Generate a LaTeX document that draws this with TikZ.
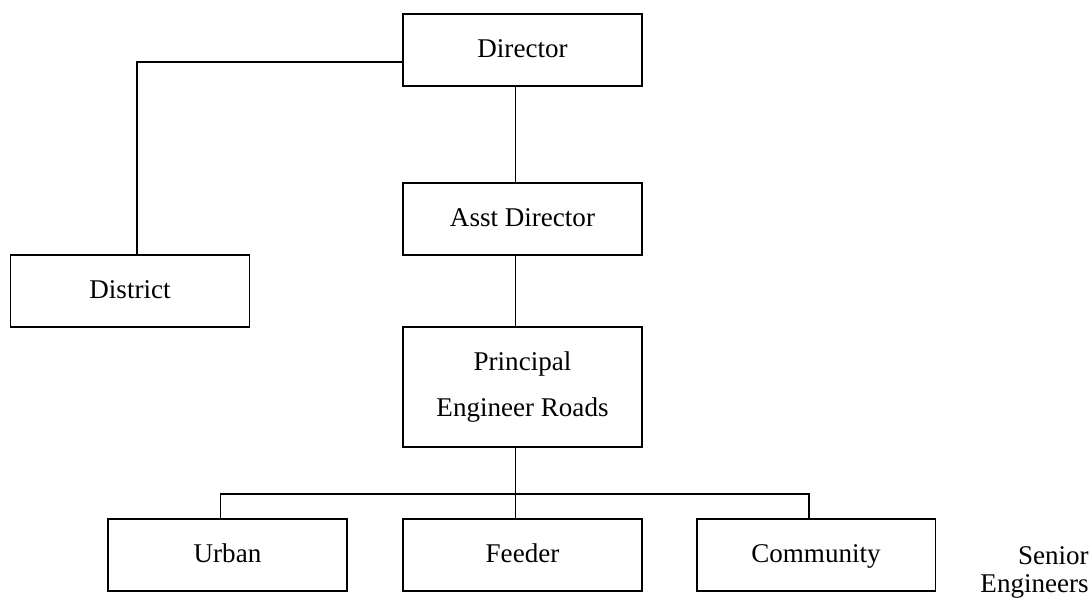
\documentclass[tikz,border=0pt]{standalone}
\usepackage{fontspec}
\setmainfont{Liberation Serif}
\usepackage{tikz}

\tikzset{
  unitbox/.style={draw,line width=1.1pt,minimum width=4.78cm,minimum height=1.44cm,
    inner sep=0pt,font=\fontsize{15.4}{26.7}\selectfont,align=center},
  oneline/.style={unitbox,text height=10.5pt,text depth=1.4pt},
  link/.style={line width=1.1pt}
}

\begin{document}
\begin{tikzpicture}[x=0.02cm,y=-0.02cm]
                    \useasboundingbox (0,0) rectangle (1091,601);

                    \node[oneline] (director) at (522.5,50) {Director};
                    \node[oneline] (asst) at (522.5,219) {Asst Director};
                    \node[oneline] (district) at (130,291) {District};
                    \node[unitbox,minimum height=2.4cm] (principal) at (522.5,387) {Principal\\Engineer Roads};

                    \node[oneline] (urban) at (227.5,555) {Urban};
                    \node[oneline] (feeder) at (522.5,555) {Feeder};
                    \node[oneline] (community) at (816,555) {Community};
                    \node[anchor=east,inner sep=0pt,align=right,font=\fontsize{15.4}{15.9}\selectfont] (senior) at (1089,572) {Senior\\Engineers};

                    \draw[link] ([yshift=-0.24cm]director.west) -| ([xshift=0.14cm]district.north);
                    \draw[link] ([xshift=-0.14cm]director.south) -- ([xshift=-0.14cm]asst.north);
                    \draw[link] ([xshift=-0.14cm]asst.south) -- ([xshift=-0.14cm]principal.north);
                    \draw[link] ([xshift=-0.14cm]principal.south) -- ([xshift=-0.14cm]feeder.north);
                    \draw[link] ([xshift=-0.14cm]urban.north) -- ++(0,-24) -| ([xshift=-0.14cm]community.north);
                \end{tikzpicture}
\end{document}
